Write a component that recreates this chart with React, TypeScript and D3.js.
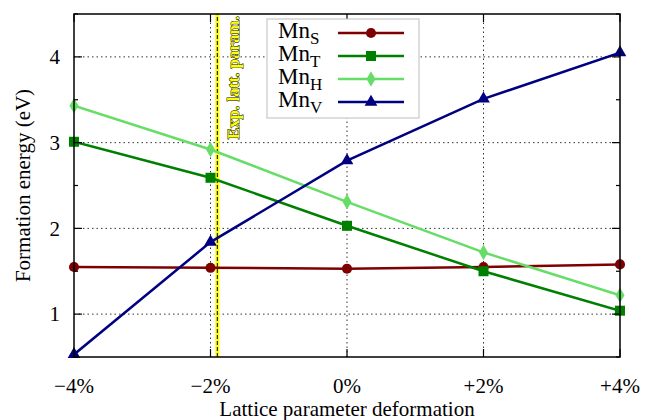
import React from 'react';
import * as d3 from 'd3';

const strains = [-4, -2, 0, 2, 4];
const xTickLabels = ['\u22124%', '\u22122%', '0%', '+2%', '+4%'];
const yTicks = [1, 2, 3, 4];
const mnS = [1.55, 1.54, 1.53, 1.55, 1.58];
const mnT = [3.01, 2.59, 2.03, 1.50, 1.04];
const mnH = [3.43, 2.92, 2.31, 1.72, 1.22];
const mnV = [0.53, 1.84, 2.79, 3.51, 4.05];
const expLatt = -1.9;

const series = [
  { sub: 'S', values: mnS, color: '#7f0000', marker: 'circle' },
  { sub: 'T', values: mnT, color: '#008000', marker: 'square' },
  { sub: 'H', values: mnH, color: '#66dd66', marker: 'diamond' },
  { sub: 'V', values: mnV, color: '#000080', marker: 'triangle' },
];

const W = 650, H = 420;
const m = { left: 74, right: 30, top: 14, bottom: 63 };
const font = 'Liberation Serif, DejaVu Serif, serif';

const symbolOf: Record<string, any> = {
  circle: d3.symbol(d3.symbolCircle, 80),
  square: d3.symbol(d3.symbolSquare, 100),
  diamond: d3.symbol(d3.symbolDiamond, 70),
  triangle: d3.symbol(d3.symbolTriangle, 70),
};

export default function App() {
  const x = d3.scaleLinear().domain([-4, 4]).range([m.left, W - m.right]);
  const y = d3.scaleLinear().domain([0.5, 4.5]).range([H - m.bottom, m.top]);
  const line = d3.line<number>().x((_, i) => x(strains[i])).y((d) => y(d));
  const [x0, x1] = x.range();
  const [y0, y1] = y.range();
  const minorY = d3.range(0.5, 4.51, 0.5).filter((v) => !yTicks.includes(v));
  const ex = x(expLatt);

  return (
    <svg width={W} height={H} style={{ position: 'absolute', left: 0, top: 0, background: '#fff' }} fontFamily={font}>
      <defs>
        <clipPath id="plot">
          <rect x={x0} y={y1} width={x1 - x0} height={y0 - y1} />
        </clipPath>
      </defs>

      {/* grid */}
      <g stroke="#000" strokeWidth={1} strokeDasharray="1.5,3" opacity={0.8}>
        {yTicks.map((t) => (
          <line key={'gy' + t} x1={x0} x2={x1} y1={y(t)} y2={y(t)} />
        ))}
        {strains.slice(1, -1).map((s) => (
          <line key={'gx' + s} x1={x(s)} x2={x(s)} y1={y0} y2={y1} />
        ))}
      </g>

      {/* experimental lattice parameter */}
      <line x1={ex} x2={ex} y1={y0} y2={y1} stroke="#ffff00" strokeWidth={4} />
      <line x1={ex} x2={ex} y1={y0} y2={y1} stroke="#000" strokeWidth={1} strokeDasharray="4,2" />
      <text
        transform={`translate(${ex + 22},${y1 + 2}) rotate(-90)`}
        textAnchor="end"
        fontSize={17}
        fontWeight="bold"
        fill="#ffff00"
        stroke="#000"
        strokeWidth={0.9}
        paintOrder="stroke"
      >
        Exp. latt. param.
      </text>

      {/* series */}
      <g clipPath="url(#plot)">
        {series.map((s) => (
          <path key={s.sub} d={line(s.values) ?? ''} fill="none" stroke={s.color} strokeWidth={2.5} />
        ))}
      </g>
      {series.map((s) => (
        <g key={'m' + s.sub} fill={s.color}>
          {s.values.map((v, i) => (
            <path key={i} transform={`translate(${x(strains[i])},${y(v)})`} d={symbolOf[s.marker]() ?? ''} />
          ))}
        </g>
      ))}

      {/* frame and ticks */}
      <rect x={x0} y={y1} width={x1 - x0} height={y0 - y1} fill="none" stroke="#000" strokeWidth={1.5} />
      <g stroke="#000" strokeWidth={1.2}>
        {yTicks.map((t) => (
          <g key={'ty' + t}>
            <line x1={x0} x2={x0 + 8} y1={y(t)} y2={y(t)} />
            <line x1={x1} x2={x1 - 8} y1={y(t)} y2={y(t)} />
          </g>
        ))}
        {minorY.map((t) => (
          <g key={'my' + t}>
            <line x1={x0} x2={x0 + 4} y1={y(t)} y2={y(t)} />
            <line x1={x1} x2={x1 - 4} y1={y(t)} y2={y(t)} />
          </g>
        ))}
        {strains.map((s) => (
          <g key={'tx' + s}>
            <line x1={x(s)} x2={x(s)} y1={y0} y2={y0 - 8} />
            <line x1={x(s)} x2={x(s)} y1={y1} y2={y1 + 8} />
          </g>
        ))}
      </g>

      {/* tick labels */}
      <g fontSize={21} fill="#000">
        {yTicks.map((t) => (
          <text key={'ly' + t} x={x0 - 14} y={y(t)} dy="0.35em" textAnchor="end">
            {t}
          </text>
        ))}
        {strains.map((s, i) => (
          <text key={'lx' + s} x={x(s)} y={y0 + 36} textAnchor="middle">
            {xTickLabels[i]}
          </text>
        ))}
      </g>

      {/* axis titles */}
      <text x={(x0 + x1) / 2} y={H - 4} textAnchor="middle" fontSize={21}>
        Lattice parameter deformation
      </text>
      <text transform={`translate(30,${(y0 + y1) / 2}) rotate(-90)`} textAnchor="middle" fontSize={21}>
        Formation energy (eV)
      </text>

      {/* legend */}
      <g>
        <rect x={267} y={19} width={152} height={99} fill="#fff" stroke="#c8c8c8" strokeWidth={1.2} />
        {series.map((s, i) => {
          const ly = 33 + i * 23;
          return (
            <g key={'lg' + s.sub}>
              <text x={278} y={ly + 5} fontSize={23}>
                Mn
                <tspan dy={6} fontSize={17}>
                  {s.sub}
                </tspan>
              </text>
              <line x1={338} x2={404} y1={ly} y2={ly} stroke={s.color} strokeWidth={2.5} />
              <path transform={`translate(371,${ly})`} d={symbolOf[s.marker]() ?? ''} fill={s.color} />
            </g>
          );
        })}
      </g>
    </svg>
  );
}
